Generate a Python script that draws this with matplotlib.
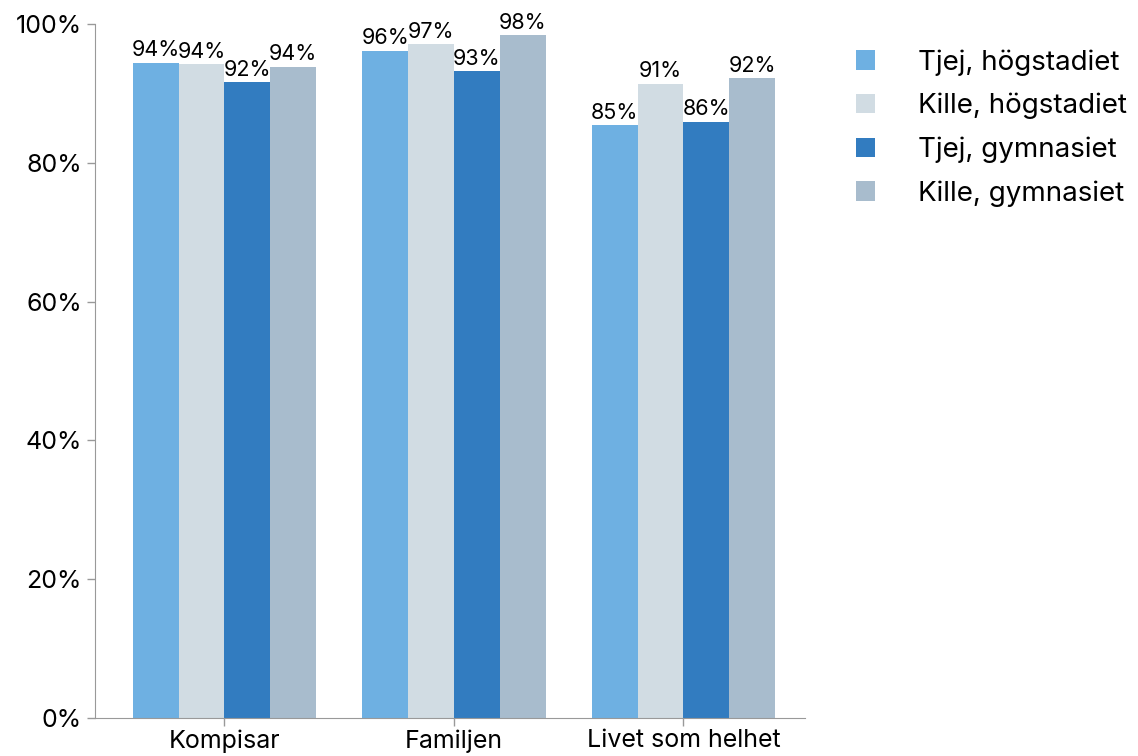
import numpy as np
import matplotlib
matplotlib.use("Agg")
import matplotlib.pyplot as plt
from matplotlib.ticker import PercentFormatter

plt.rcParams["font.family"] = ["Inter", "DejaVu Sans"]

categories = ["Kompisar", "Familjen", "Livet som helhet"]
series = ["Tjej, högstadiet", "Kille, högstadiet", "Tjej, gymnasiet", "Kille, gymnasiet"]
tjej_hog = [94.4, 96.1, 85.4]
kille_hog = [94.2, 97.1, 91.4]
tjej_gym = [91.6, 93.2, 85.9]
kille_gym = [93.8, 98.4, 92.2]
values = [tjej_hog, kille_hog, tjej_gym, kille_gym]
colors = ["#6EB0E2", "#D1DCE3", "#327CC0", "#A8BCCD"]

fig = plt.figure(figsize=(11.38, 7.56), dpi=100)
ax = fig.add_axes([0.0835, 0.0503, 0.624, 0.9177])

x = np.arange(len(categories))
w = 0.2
handles = []
for i, (vals, c, lab) in enumerate(zip(values, colors, series)):
    pos = x + (i - 1.5) * w
    b = ax.bar(pos, vals, width=w, color=c, label=lab)
    handles.append(b)
    for p, v in zip(pos, vals):
        ax.text(p, v + 0.4, f"{v:.0f}%", ha="center", va="bottom", fontsize=15.5)

ax.set_xlim(-0.564, 2.53)
ax.set_ylim(0, 100)
ax.set_yticks(np.arange(0, 101, 20))
ax.yaxis.set_major_formatter(PercentFormatter(decimals=0))
ax.set_xticks(x)
ax.set_xticklabels(categories)
ax.tick_params(axis="both", labelsize=18, color="#999999", length=6, width=1)
ax.tick_params(axis="x", pad=2)
for s in ("top", "right"):
    ax.spines[s].set_visible(False)
for s in ("left", "bottom"):
    ax.spines[s].set_color("#999999")

leg = fig.legend(handles=handles, loc="upper left", bbox_to_anchor=(0.730, 0.968),
                 frameon=False, fontsize=20, handlelength=0.7, handleheight=0.7,
                 handletextpad=1.55, labelspacing=0.62)

fig.savefig("out.png", dpi=100, facecolor="white")
